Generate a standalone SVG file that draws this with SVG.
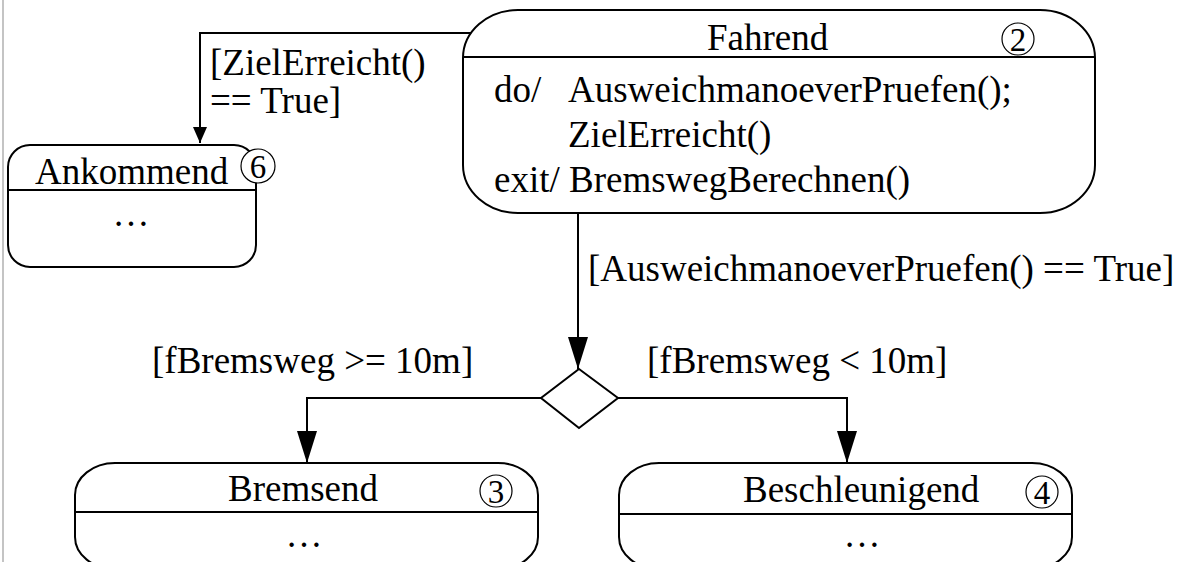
<svg xmlns="http://www.w3.org/2000/svg" width="1193" height="562" viewBox="0 0 1193 562">
<style>
.t{font-family:"Liberation Serif","Times New Roman",serif;font-size:37px;fill:#000}
.n{font-family:"Liberation Serif","Times New Roman",serif;font-size:33px;fill:#000;text-anchor:middle}
.box{fill:#fff;stroke:#000;stroke-width:2}
.sep{stroke:#000;stroke-width:2}
.num{fill:#fff;stroke:#000;stroke-width:1.2}
.c{fill:none;stroke:#000;stroke-width:2}
</style>
<defs>
<marker id="big" markerUnits="userSpaceOnUse" viewBox="0 0 32 20" markerWidth="32" markerHeight="20" refX="32" refY="10" orient="auto"><path d="M0,0 L32,10 L0,20 z" fill="#000"/></marker>
<marker id="small" markerUnits="userSpaceOnUse" viewBox="0 0 16 14" markerWidth="16" markerHeight="14" refX="16" refY="7" orient="auto"><path d="M0,0 L16,7 L0,14 z" fill="#000"/></marker>
</defs>
<rect width="1193" height="562" fill="#fff"/>
<line x1="3" y1="0" x2="3" y2="562" stroke="#c4c4c4" stroke-width="2"/>

<g id="connectors">
<path class="c" d="M473,33 H200 V143" marker-end="url(#small)"/>
<text class="t" x="210" y="75">[ZielErreicht()</text>
<text class="t" x="210" y="113">== True]</text>
<path class="c" d="M578,213 V369" marker-end="url(#big)"/>
<text class="t" x="588" y="281">[AusweichmanoeverPruefen() == True]</text>
<path class="c" d="M541,398 H307 V463" marker-end="url(#big)"/>
<text class="t" x="152" y="373">[fBremsweg &gt;= 10m]</text>
<path class="c" d="M618,398 H847 V463" marker-end="url(#big)"/>
<text class="t" x="647" y="373">[fBremsweg &lt; 10m]</text>
</g>

<g id="decision">
<polygon class="box" points="579,369 618,398 579,428 541,398"/>
</g>

<g id="fahrend">
<rect class="box" x="463" y="10" width="632" height="203" rx="55" ry="48"/>
<line class="sep" x1="463" y1="57" x2="1095" y2="57"/>
<text class="t" x="707" y="50">Fahrend</text>
<circle class="num" cx="1018" cy="39" r="16"/>
<text class="n" x="1018" y="51">2</text>
<text class="t" x="494" y="102">do/</text>
<text class="t" x="568" y="102">AusweichmanoeverPruefen();</text>
<text class="t" x="568" y="147">ZielErreicht()</text>
<text class="t" x="494" y="192">exit/ BremswegBerechnen()</text>
</g>

<g id="ankommend">
<rect class="box" x="8" y="145" width="248" height="122" rx="22" ry="22"/>
<line class="sep" x1="8" y1="190" x2="256" y2="190"/>
<text class="t" x="35" y="184">Ankommend</text>
<circle class="num" cx="258" cy="166" r="17"/>
<text class="n" x="258" y="178">6</text>
<text class="t" x="131" y="226" text-anchor="middle">…</text>
</g>

<g id="bremsend">
<rect class="box" x="75" y="463" width="463" height="106" rx="40" ry="32"/>
<line class="sep" x1="75" y1="512" x2="538" y2="512"/>
<text class="t" x="228" y="501">Bremsend</text>
<circle class="num" cx="496" cy="491" r="16"/>
<text class="n" x="496" y="503">3</text>
<text class="t" x="304" y="547" text-anchor="middle">…</text>
</g>

<g id="beschleunigend">
<rect class="box" x="619" y="463" width="453" height="106" rx="40" ry="32"/>
<line class="sep" x1="619" y1="514" x2="1072" y2="514"/>
<text class="t" x="743" y="502">Beschleunigend</text>
<circle class="num" cx="1042" cy="492" r="16"/>
<text class="n" x="1042" y="504">4</text>
<text class="t" x="862" y="547" text-anchor="middle">…</text>
</g>
</svg>
